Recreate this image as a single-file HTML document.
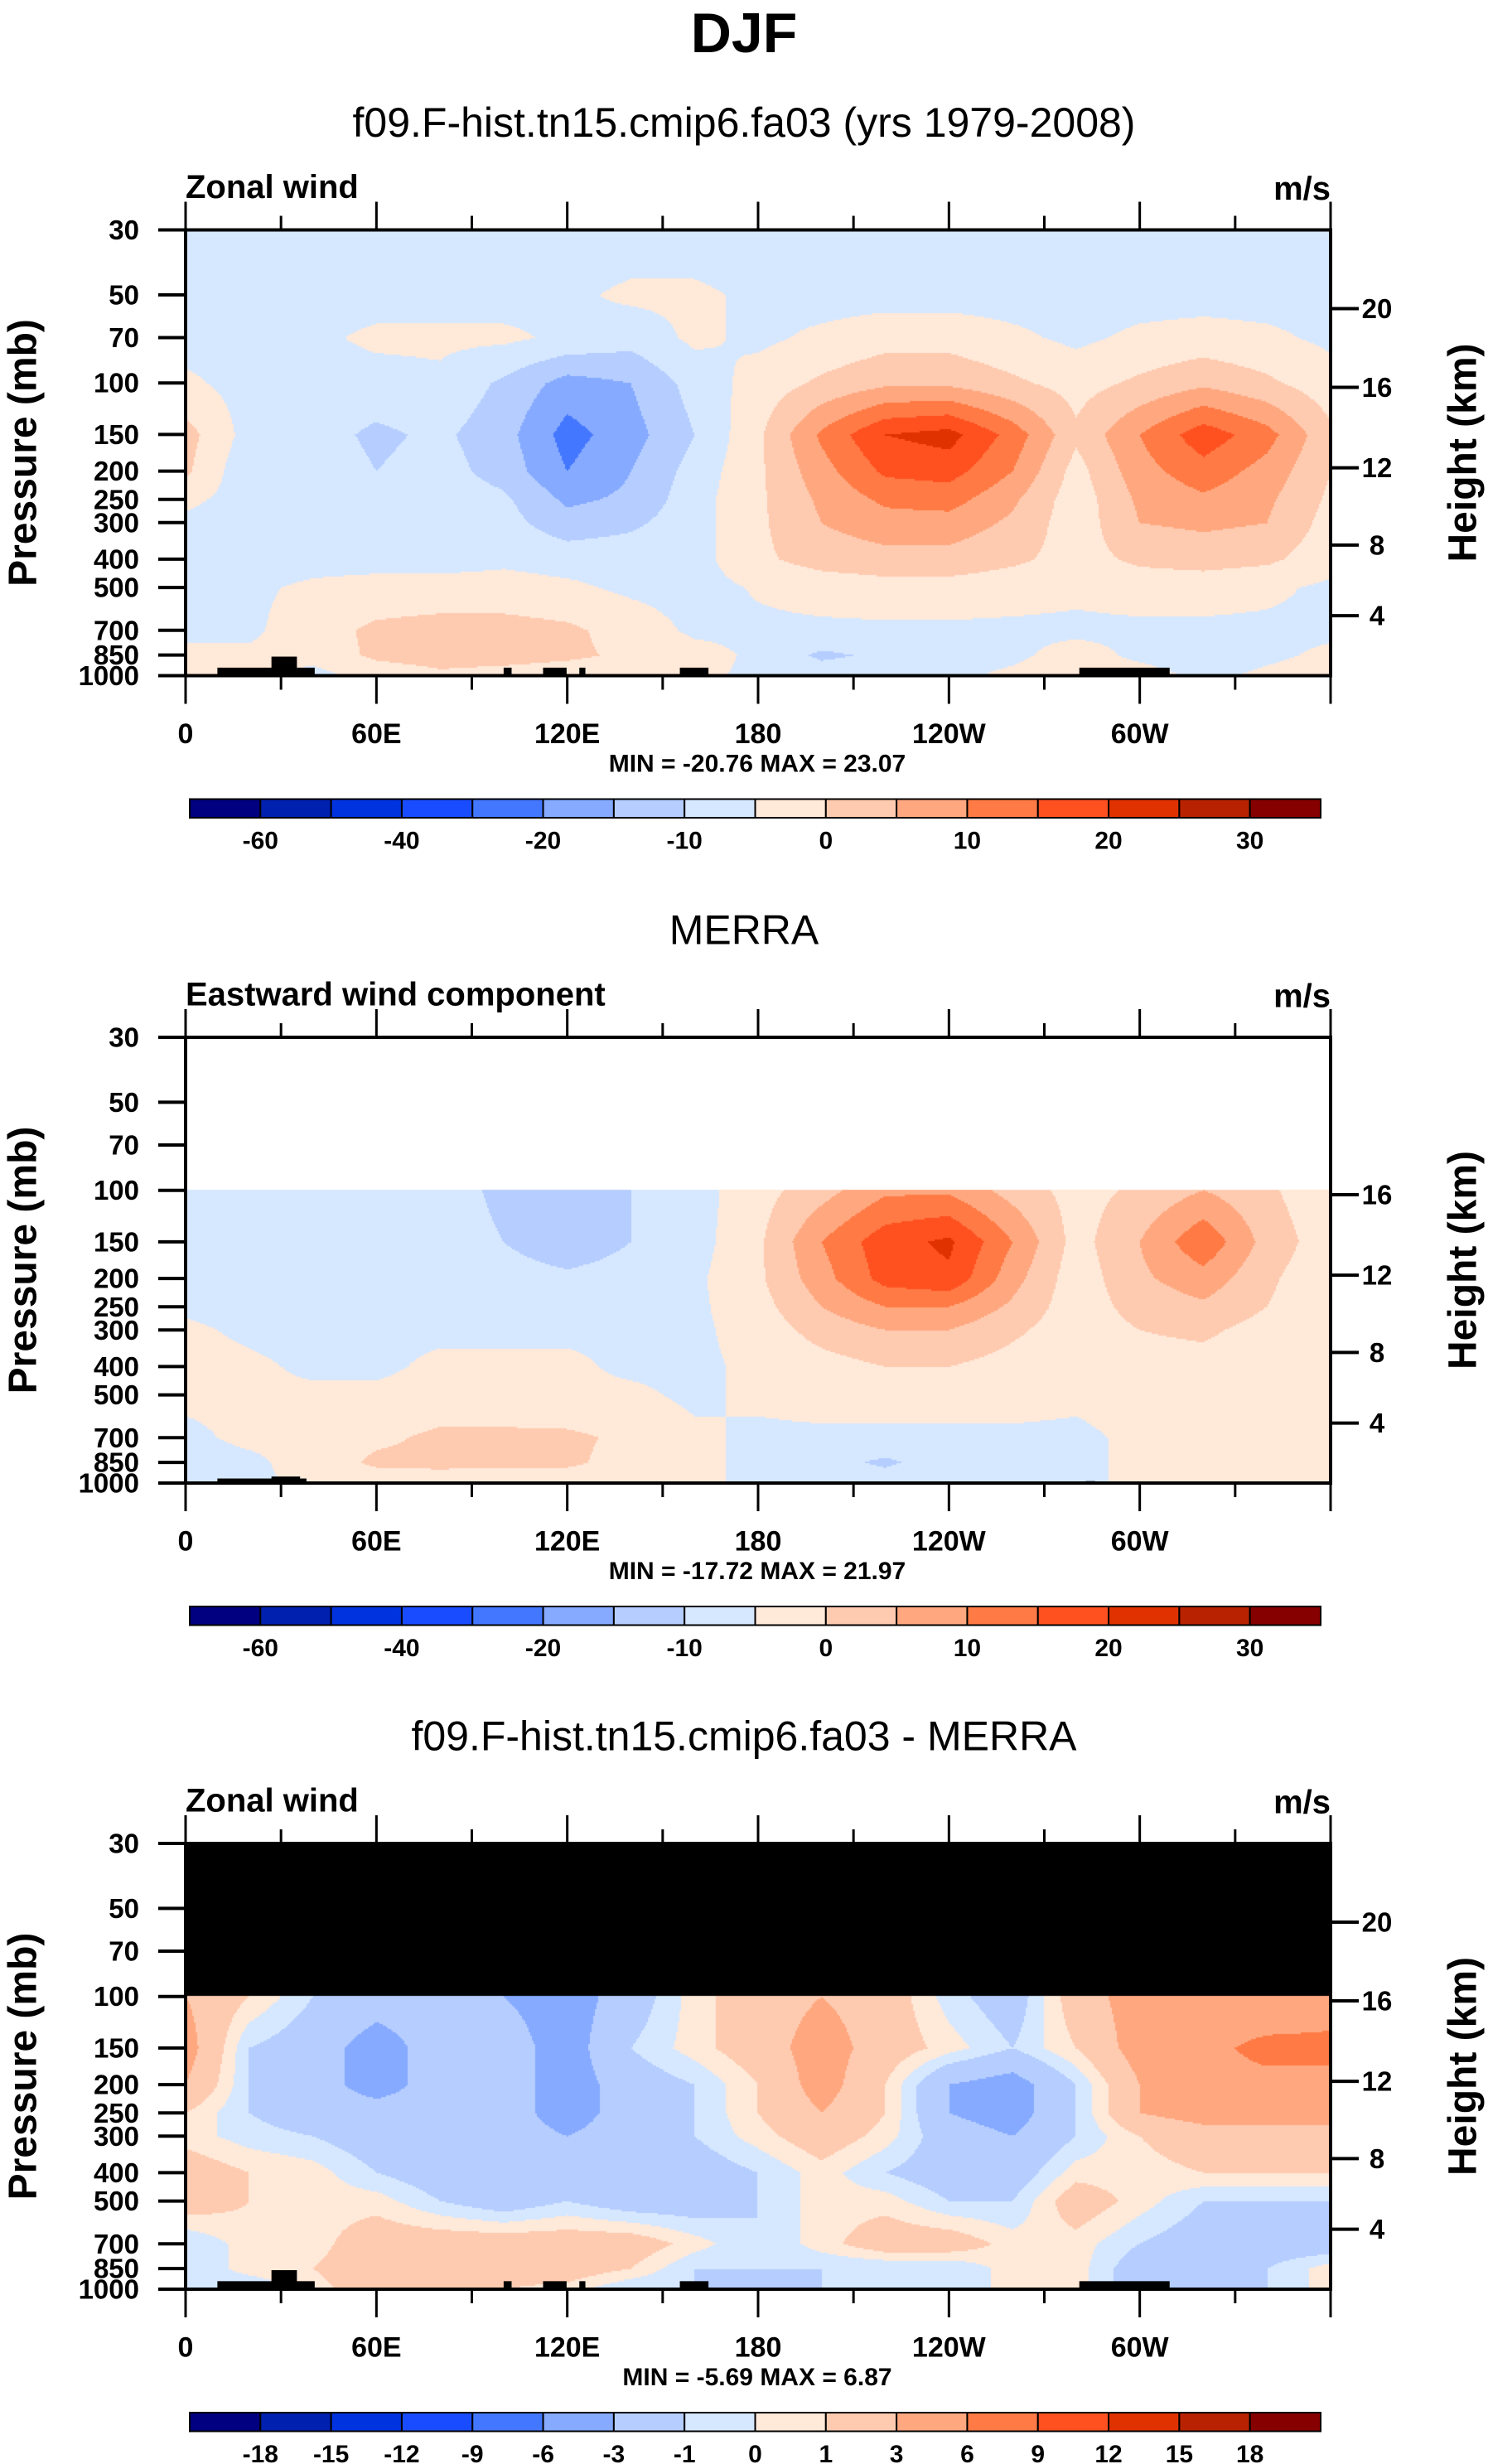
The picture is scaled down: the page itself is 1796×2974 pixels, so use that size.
<!DOCTYPE html>
<html><head><meta charset="utf-8">
<style>
html,body{margin:0;padding:0;background:#fff;}
#root{position:relative;width:1796px;height:2974px;overflow:hidden;font-family:"Liberation Sans",sans-serif;}
canvas{position:absolute;}
svg{position:absolute;left:0;top:0;}
</style></head>
<body>
<div id="root">
<canvas id="c0"></canvas>
<canvas id="c1"></canvas>
<canvas id="c2"></canvas>
<svg id="ov" width="1796" height="2974"></svg>
</div>
<script>
// ---- data ----
const lons = [0,20,40,60,80,100,120,140,160,180,200,220,240,260,280,300,320,340,360];
const plevs = [30,50,70,100,150,200,250,300,400,500,700,850,1000];
const yTickP = [30,50,70,100,150,200,250,300,400,500,700,850,1000];
const xTickLon = [0,60,120,180,240,300];
const xTickLabels = ["0","60E","120E","180","120W","60W"];
const hTickKm = [20,16,12,8,4];
const hTickP = [55.7,103.5,195,358,624];
const windLevels = [-60,-50,-40,-30,-20,-15,-10,-5,0,5,10,15,20,25,30];
const windLabels = ["-60","","-40","","-20","","-10","","0","","10","","20","","30"];
const diffLevels = [-18,-15,-12,-9,-6,-3,-1,0,1,3,6,9,12,15,18];
const diffLabels = ["-18","-15","-12","-9","-6","-3","-1","0","1","3","6","9","12","15","18"];
const colors = ["#000080","#0020b0","#0033e0","#1a4cff","#4477ff","#85aaff","#b5cdff","#d6e8ff","#ffe9d9","#ffcbb0","#ffa880","#ff7a45","#ff5020","#e03200","#b82200","#870000"];
const N = null;
const modelU = [
[-8,-8,-8,-8,-8,-8,-8,-8,-8,-8,-8,-8,-8,-8,-8,-8,-8,-8,-8],
[-7,-7,-7,-7,-7,-7,-6,-4,-4,-6,-7,-7,-7,-7,-7,-7,-7,-7,-7],
[-7,-7,-6,-4,-4,-4,-6,-8,-4,-6,-4,-2,-2,-4,-6,-4,-3,-4,-6],
[-4,-7,-7,-7,-6,-11,-17,-15,-8,-3,1,4,4,1,-2,1,4,1,-3],
[2,-7,-8,-11,-9,-13,-22,-17,-10,-1,11,20,22,13,1,10,18,12,1],
[1,-9,-7,-10,-8,-12,-20,-15,-8,-1,8,16,17,10,-2,8,13,8,0],
[-4,-7,-7,-7,-7,-9,-16,-14,-7,-1,6,11,12,6,-3,6,9,6,-1],
[-6,-7,-7,-7,-7,-8,-13,-11,-7,-1,5,8,8,4,-3,5,6,5,-2],
[-7,-7,-7,-7,-7,-6,-7,-7,-7,-1,2,3,3,1,-2,1,2,1,-3],
[-7,-6,-4,-3,-3,-3,-4,-6,-7,-4.5,-3,-2,-2,-3,-4,-3,-3,-4,-6],
[-7,-6,-2,1,2,2,1,-2,-6,-6,-6,-6,-6,-6,-6,-6,-6,-6,-6],
[-3,-4,-3,1,2,2,1,-1,-3,-6,-11,-9,-7,-6,-3,-6,-8,-6,-4],
[-2,-3,-7,-3,-1,-2,-3,-3,-4,-6,-7,-6,-6,-4,-2,-3,-6,-4,-2]];
const merraU = [
[N,N,N,N,N,N,N,N,N,N,N,N,N,N,N,N,N,N,N],
[N,N,N,N,N,N,N,N,N,N,N,N,N,N,N,N,N,N,N],
[N,N,N,N,N,N,N,N,N,N,N,N,N,N,N,N,N,N,N],
[-7,-7,-7,-7,-8,-11,-13,-10,-7,-2,3,9,9,3,-2,1,5,1,-4],
[-7,-8,-7,-7,-8,-10,-13,-10,-7,-1,10,18,21,10,-2,5,14,3,-3],
[-6,-8,-7,-7,-7,-8,-9,-8,-6,-1,8,17,19,7,-3,4,8,1,-4],
[-6,-7,-7,-6,-6,-7,-7,-7,-6,-2,5,10,10,4,-3,2,4,0,-4],
[-4,-6,-7,-6,-6,-6,-6,-6,-6,-3,2,5,5,1,-3,0,1,-2,-4],
[-3,-4,-6,-6,-4,-4,-4,-6,-6,-4,-2,0,0,-2,-3,-2,-2,-3,-4],
[-4,-4,-4,-4,-3,-3,-4,-4,-6,-4,-3,-3,-3,-3,-4,-3,-3,-4,-4],
[-6,-4,-4,-1,1,1,1,-1,-4,-6,-6,-6,-6,-6,-6,-4,-4,-3,-4],
[-7,-6,-3,1,1,1,1,-2,-4,-6,-8,-11,-7,-6,-6,-4,-3,-3,-3],
[-7,-6,-4,-3,-2,-3,-3,-4,-4,-6,-7,-7,-6,-6,-6,-4,-4,-3,-3]];
const diffU = [
[N,N,N,N,N,N,N,N,N,N,N,N,N,N,N,N,N,N,N],
[N,N,N,N,N,N,N,N,N,N,N,N,N,N,N,N,N,N,N],
[N,N,N,N,N,N,N,N,N,N,N,N,N,N,N,N,N,N,N],
[3,1,-1,-2,-2,-3,-4,-2,0.5,2,3,2,-0.5,-2,2,4,4,3,4],
[4,-1,-2,-4,-2,-2,-4,-1,0.5,2,4,2,0.5,-1,1,4,5,7,7],
[3,-1,-2,-4,-2,-2,-4,-2,-1,1,4,1,-3,-4,-1,3,5,5,5],
[1,-1,-2,-2,-2,-2,-4,-2,-1,1,3,1,-3,-4,-1,3,4,4,4],
[0.5,-0.5,-1,-2,-2,-2,-3,-2,-1,0.5,2,0.5,-2,-3,-1,1,2,2,2],
[2,1,0.5,-1,-2,-2,-2,-2,-2,-1,0.5,-1,-2,-2,0.5,0.5,1,1,1],
[2,1,0.5,0.5,-1,-2,-1,-2,-2,-1,0.5,0.5,-1,-1,2,0.5,-1,-1,-1],
[-1,0.5,0.5,2,2,2,2,2,0.5,-1,0.5,2,2,0.5,0.5,-1,-2,-2,-2],
[-1,0.5,1,2,2,2,2,1,-1,-1,-1,-1,-1,0.5,0.5,-2,-2,-1,0.5],
[-1,-1,0.5,2,1,1,0.5,-1,-1,-2,-1,-1,-1,0.5,0.5,-2,-1,-1,0.5]];
// topography boxes: [lon0, lon1, topPressure]
const topoModel = [[10,40.6,939],[27,35,861],[100,102.5,939],[112.4,119.8,939],[123.8,125.7,939],[155.4,164.4,939],[281,309.4,939]];
const topoMerra = [[10,38,965],[27,36,950],[283,286,985]];
const titles = ["f09.F-hist.tn15.cmip6.fa03 (yrs 1979-2008)","MERRA","f09.F-hist.tn15.cmip6.fa03 - MERRA"];
const leftStrings = ["Zonal wind","Eastward wind component","Zonal wind"];
const minMax = ["MIN = -20.76  MAX =  23.07","MIN = -17.72  MAX =  21.97","MIN = -5.69  MAX =  6.87"];

// ---- layout ----
const PL=224, PR=1606, PW=PR-PL, PH=538;
const tops=[277.5,1252,2225];
const xS = lon => PL + lon/360*PW;
const yS = (p,top) => top + Math.log(p/30)/Math.log(1000/30)*PH;
const NS="http://www.w3.org/2000/svg";
const ov=document.getElementById('ov');
function el(tag,attrs,parent){const e=document.createElementNS(NS,tag);for(const k in attrs)e.setAttribute(k,attrs[k]);(parent||ov).appendChild(e);return e;}
function txt(s,x,y,size,anchor,weight,parent){const t=el('text',{x:x,y:y,'font-size':size,'text-anchor':anchor||'middle','font-weight':weight||'bold','font-family':'Liberation Sans, sans-serif','dominant-baseline':'central',fill:'#000'},parent);t.setAttribute('xml:space','preserve');t.textContent=s;return t;}

function interp(grid,lon,p){
  const lp=Math.log(p);
  let j=plevs.length-2;for(let k=0;k<plevs.length-1;k++){if(p<=plevs[k+1]){j=k;break;}}
  const ty=(lp-Math.log(plevs[j]))/(Math.log(plevs[j+1])-Math.log(plevs[j]));
  let i=Math.min(Math.floor(lon/20),lons.length-2);const tx=(lon-lons[i])/20;
  const a=grid[j][i],b=grid[j][i+1],c=grid[j+1][i],d=grid[j+1][i+1];
  if(a===null||b===null||c===null||d===null){ if(ty<0.999 && (a===null||b===null)) return null; }
  const A=a===null?c:a,B=b===null?d:b;
  return (A*(1-tx)+B*tx)*(1-ty)+(c*(1-tx)+d*tx)*ty;
}
function cls(v,levels){let n=0;for(const l of levels)if(v>=l)n++;return n;}

function drawField(idx,grid,levels,missingColor){
  const cv=document.getElementById('c'+idx);
  const top=tops[idx];
  cv.width=PW;cv.height=PH;cv.style.left=PL+'px';cv.style.top=top+'px';
  const ctx=cv.getContext('2d');
  const st=2;
  for(let py=0;py<PH;py+=st){
    const p=30*Math.exp((py+st/2)/PH*Math.log(1000/30));
    for(let px=0;px<PW;px+=st){
      const lon=(px+st/2)/PW*360;
      const v=interp(grid,lon,p);
      if(v===null){ if(missingColor){ctx.fillStyle=missingColor;ctx.fillRect(px,py,st,st);} continue;}
      ctx.fillStyle=colors[cls(v,levels)];
      ctx.fillRect(px,py,st,st);
    }
  }
}
drawField(0,modelU,windLevels,null);
drawField(1,merraU,windLevels,null);
drawField(2,diffU,diffLevels,'#000');

txt("DJF",898,40,68,'middle','bold');

function panel(k,levels,labels,topo){
  const top=tops[k];
  const g=el('g',{});
  
  
  const off=top-277.5;
  const t=txt(titles[k],898,148+off,50,'middle','normal',g);
  
  const ls=txt(leftStrings[k],PL,226+off,40,'start','bold',g);
  
  const rs=txt("m/s",PR,228+off,40,'end','bold',g);
  
  for(const b of topo){
    const r=el('rect',{x:xS(b[0]),y:yS(b[2],top),width:xS(b[1])-xS(b[0]),height:yS(1000,top)-yS(b[2],top),fill:'#000'},g);
    
    
  }
  const fr=el('rect',{x:PL,y:top,width:PW,height:PH,fill:'none',stroke:'#000','stroke-width':4},g);
  
  yTickP.forEach(p=>{
    const y=yS(p,top);
    el('line',{x1:PL-33,x2:PL,y1:y,y2:y,stroke:'#000','stroke-width':4},g);
    const l=txt(String(p),168,y,33,'end','bold',g);
    
  });
  const ya=txt("Pressure (mb)",0,0,48,'middle','bold',g);
  ya.setAttribute('transform','translate(28,'+(top+PH/2)+') rotate(-90)');
  
  hTickKm.forEach((h,i)=>{
    const p=hTickP[i]; if(k===1 && p<100) return;
    const y=yS(p,top);
    el('line',{x1:PR,x2:PR+34,y1:y,y2:y,stroke:'#000','stroke-width':4},g);
    const l=txt(String(h),1662,y,33,'middle','bold',g);
    
  });
  const ha=txt("Height (km)",0,0,48,'middle','bold',g);
  ha.setAttribute('transform','translate(1766,'+(top+PH/2)+') rotate(-90)');
  
  for(let lon=0;lon<=360;lon+=30){
    const x=xS(lon);const major=lon%60===0;const L=major?34:17;
    el('line',{x1:x,x2:x,y1:top+PH,y2:top+PH+L,stroke:'#000','stroke-width':3},g);
    el('line',{x1:x,x2:x,y1:top,y2:top-L,stroke:'#000','stroke-width':3},g);
  }
  xTickLon.forEach((lon,i)=>{
    const l=txt(xTickLabels[i],xS(lon),886+off,34,'middle','bold',g);
    
  });
  const mm=txt(minMax[k],914,922+off,30,'middle','bold',g);
  
  const cx0=229,cx1=1594,cy=964.5+off,ch=22.5,bw=(cx1-cx0)/colors.length;
  colors.forEach((c,i)=>{
    const r=el('rect',{x:cx0+i*bw,y:cy,width:bw,height:ch,fill:c,stroke:'#000','stroke-width':2},g);
    
    
  });
  labels.forEach((s,i)=>{
    if(!s)return;
    const l=txt(s,cx0+(i+1)*bw,1015+off,30,'middle','bold',g);
    
  });
}
panel(0,windLevels,windLabels,topoModel);
panel(1,windLevels,windLabels,topoMerra);
panel(2,diffLevels,diffLabels,topoModel);
</script>
</body></html>
